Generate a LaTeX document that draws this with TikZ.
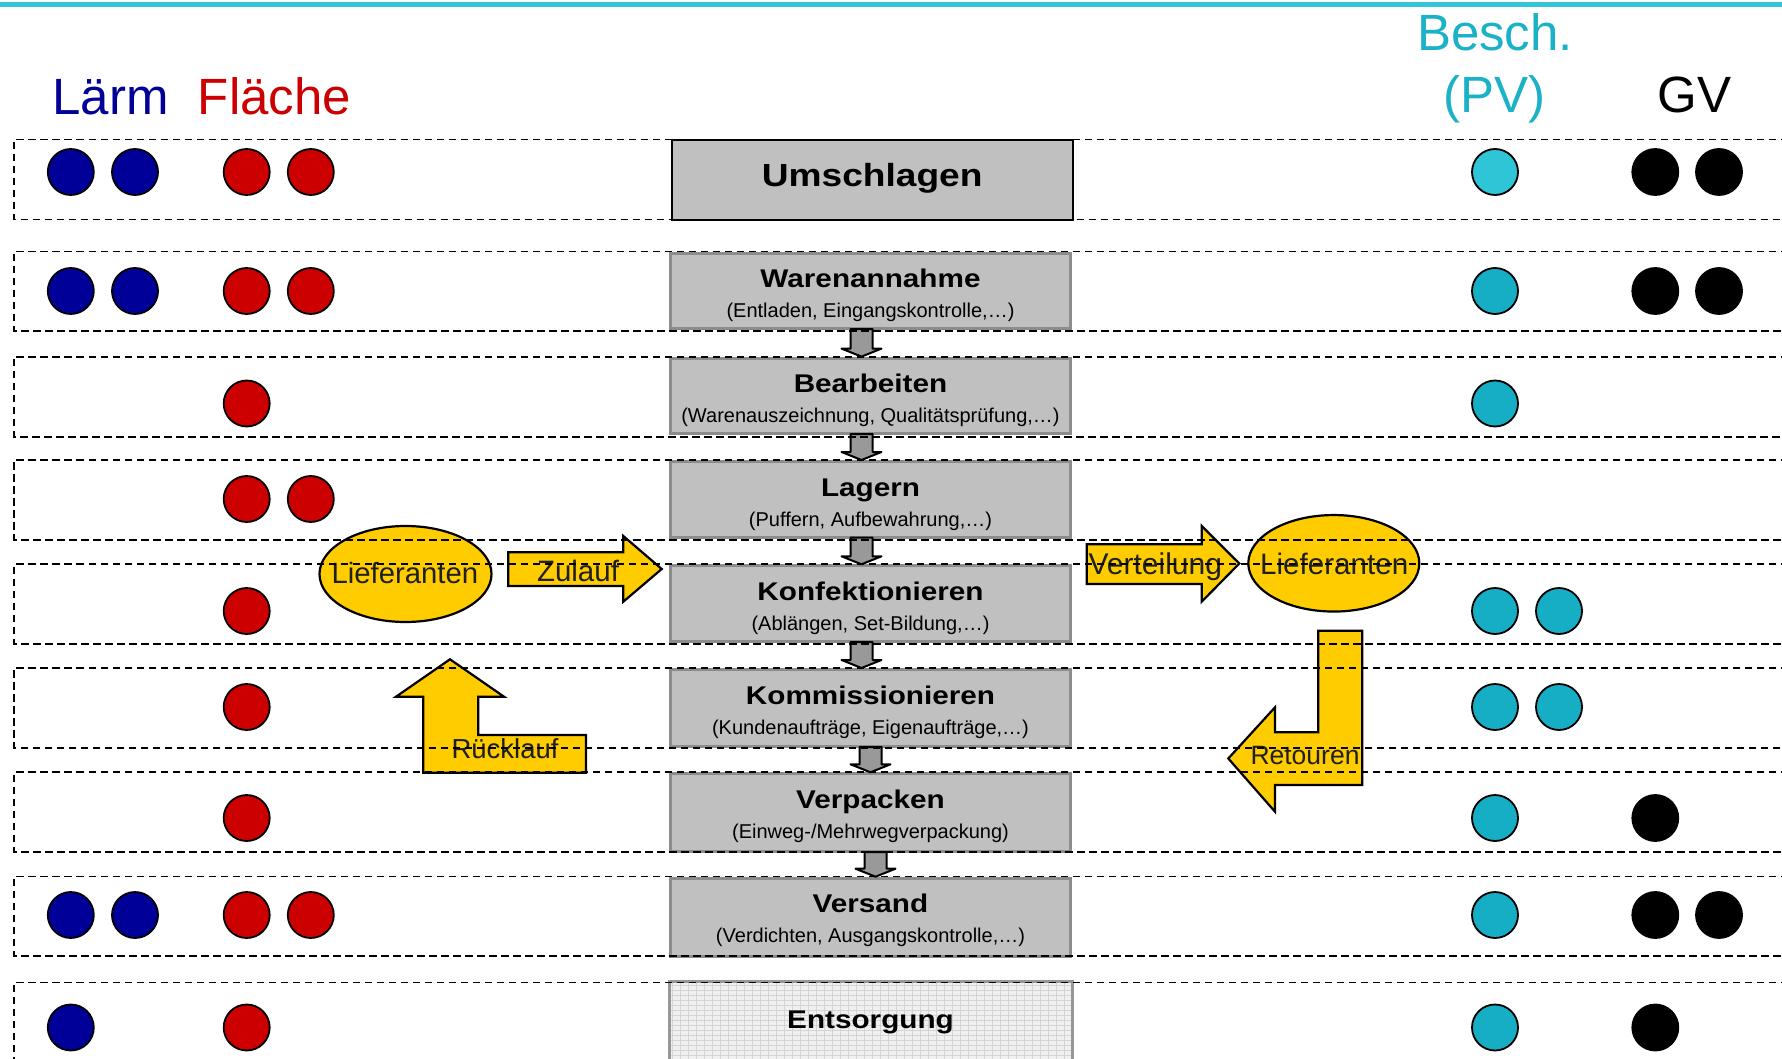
\documentclass[tikz,border=0pt]{standalone}
\usepackage{fontspec}
\setmainfont{Liberation Sans}
\newfontfamily\boxtitlefont{Liberation Sans}[FakeStretch=1.16]
\usetikzlibrary{calc,shapes.geometric}
\definecolor{lblue}{HTML}{000099}
\definecolor{lred}{HTML}{CC0000}
\definecolor{bcyanA}{HTML}{2EC5D7}
\definecolor{bcyan}{HTML}{16AEC4}
\definecolor{headcyan}{HTML}{1BB2C8}
\definecolor{topline}{HTML}{33C6D8}
\definecolor{yel}{HTML}{FFCC00}
\definecolor{boxgray}{HTML}{C0C0C0}
\definecolor{boxedge}{HTML}{8C8C8C}
\definecolor{arrgray}{HTML}{999999}
\definecolor{esfill}{HTML}{F0F0F0}
\definecolor{esgrid}{HTML}{D4D4D4}

\newcommand\dotrow[7]{%
  \ifnum#3>0 \node[dot,fill=lblue] (l#1a) at (70.8,#2) {};\fi
  \ifnum#3>1 \node[dot,fill=lblue] (l#1b) at (135,#2) {};\fi
  \ifnum#4>0 \node[dot,fill=lred] (f#1a) at (246.7,#2) {};\fi
  \ifnum#4>1 \node[dot,fill=lred] (f#1b) at (310.8,#2) {};\fi
  \ifnum#5>0 \node[dot,fill=#7] (b#1a) at (1495,#2) {};\fi
  \ifnum#5>1 \node[dot,fill=#7] (b#1b) at (1559,#2) {};\fi
  \ifnum#6>0 \node[dot,fill=black] (g#1a) at (1655.3,#2) {};\fi
  \ifnum#6>1 \node[dot,fill=black] (g#1b) at (1719,#2) {};\fi
}
\newcommand\grayarr[3]{%
  \draw[smallarr] ($(#1.south)+(#3-11,-1)$) -- ($(#2.north)+(#3-11,-8)$)
    -- ($(#2.north)+(#3-20,-8)$) -- ($(#2.north)+(#3,0)$)
    -- ($(#2.north)+(#3+20,-8)$) -- ($(#2.north)+(#3+11,-8)$)
    -- ($(#1.south)+(#3+11,-1)$) -- cycle;}
\newcommand\rowframe[2]{%
  \draw[rowline] (1800,#1) -- (14.3,#1) -- (14.3,#2) -- (1800,#2);}

\begin{document}
\begin{tikzpicture}[x=1pt,y=-1pt,
  dot/.style={circle,draw=black,line width=1.8pt,minimum size=46pt,inner sep=0pt},
  procbox/.style={draw=boxedge,line width=3pt,fill=boxgray,minimum width=400pt,anchor=north west,inner sep=0pt},
  ttl/.style={anchor=base,inner sep=0pt,font=\boxtitlefont\bfseries\fontsize{25.6}{30}\selectfont},
  sub/.style={anchor=base,inner sep=0pt,font=\fontsize{20}{24}\selectfont},
  head/.style={anchor=base,inner sep=0pt,font=\fontsize{51}{60}\selectfont},
  smallarr/.style={fill=arrgray,draw=black,line width=2pt,line join=round},
  yshape/.style={fill=yel,draw=black,line width=2.2pt,line join=miter},
  ylabel/.style={anchor=base,inner sep=0pt,text=black!88},
  rowline/.style={draw=black,line width=1.9pt,dash pattern=on 7.5pt off 4.5pt}]
\useasboundingbox (0,0) rectangle (1782,1059);
\clip (0,0) rectangle (1782,1059);
\fill[white] (0,0) rectangle (1782,1059);
% top line
\fill[topline] (0,2) rectangle (1782,6.7);
% headings
\node[head,text=lblue] (hL) at (110.5,115) {Lärm};
\node[head,text=lred] (hF) at (274.5,115) {Fläche};
\node[head,text=headcyan] (hB) at (1495,51) {Besch.};
\node[head,text=headcyan] (hP) at (1494.5,113) {(PV)};
\node[head,text=black] (hG) at (1694.5,113) {GV};
% dots
\dotrow{1}{172}{2}{2}{1}{2}{bcyanA}
\dotrow{2}{291}{2}{2}{1}{2}{bcyan}
\dotrow{3}{403.5}{0}{1}{1}{0}{bcyan}
\dotrow{4}{499}{0}{2}{0}{0}{bcyan}
\dotrow{5}{611}{0}{1}{2}{0}{bcyan}
\dotrow{6}{707}{0}{1}{2}{0}{bcyan}
\dotrow{7}{818}{0}{1}{1}{1}{bcyan}
\dotrow{8}{915}{2}{2}{1}{2}{bcyan}
\dotrow{9}{1027.5}{1}{1}{1}{1}{bcyan}
% process boxes
\node[procbox,draw=black,line width=2pt,minimum width=401pt,minimum height=80pt] (um) at (670.7,139.3) {};
\node[ttl,font=\boxtitlefont\bfseries\fontsize{32}{38}\selectfont] (umt) at ($(um.north)+(0,47.4)$) {Umschlagen};
\node[procbox,minimum height=75.3pt] (wa) at (669,251.7) {};
\node[procbox,minimum height=75.4pt] (be) at (669,356.6) {};
\node[procbox,minimum height=75.6pt] (la) at (669,460) {};
\node[procbox,minimum height=75.7pt] (ko) at (669,564.3) {};
\node[procbox,minimum height=77pt] (km) at (669,668) {};
\node[procbox,minimum height=77.7pt] (vp) at (669,772.3) {};
\node[procbox,minimum height=78.3pt] (vs) at (669,876.7) {};
\node[procbox,fill=esfill,draw=none,minimum height=77pt] (es) at (669,981.7) {};
\begin{scope}
  \clip (es.north west) rectangle (es.south east);
  \draw[esgrid,line width=0.8pt,xstep=8pt,ystep=5pt] (es.north west) grid (es.south east);
\end{scope}
\draw[draw=boxedge!90,line width=3pt] (es.north west) rectangle (es.south east);
\node[ttl] (wat) at ($(wa.north)+(0,36)$) {Warenannahme};
\node[sub] (was) at ($(wa.north)+(0,66)$) {(Entladen, Eingangskontrolle,…)};
\node[ttl] (bet) at ($(be.north)+(0,36)$) {Bearbeiten};
\node[sub] (bes) at ($(be.north)+(0,66)$) {(Warenauszeichnung, Qualitätsprüfung,…)};
\node[ttl] (lat) at ($(la.north)+(0,36)$) {Lagern};
\node[sub] (las) at ($(la.north)+(0,66)$) {(Puffern, Aufbewahrung,…)};
\node[ttl] (kot) at ($(ko.north)+(0,36)$) {Konfektionieren};
\node[sub] (kos) at ($(ko.north)+(0,66)$) {(Ablängen, Set-Bildung,…)};
\node[ttl] (kmt) at ($(km.north)+(0,36)$) {Kommissionieren};
\node[sub] (kms) at ($(km.north)+(0,66)$) {(Kundenaufträge, Eigenaufträge,…)};
\node[ttl] (vpt) at ($(vp.north)+(0,36)$) {Verpacken};
\node[sub] (vps) at ($(vp.north)+(0,66)$) {(Einweg-/Mehrwegverpackung)};
\node[ttl] (vst) at ($(vs.north)+(0,36)$) {Versand};
\node[sub] (vss) at ($(vs.north)+(0,66)$) {(Verdichten, Ausgangskontrolle,…)};
\node[ttl] (est) at ($(es.north)+(0,46.6)$) {Entsorgung};
% small flow arrows
\grayarr{wa}{be}{-9}
\grayarr{be}{la}{-9}
\grayarr{la}{ko}{-9}
\grayarr{ko}{km}{-9}
\grayarr{km}{vp}{0}
\grayarr{vp}{vs}{5}
% left side: suppliers, Zulauf, Ruecklauf
\node[ellipse,yshape,minimum width=172pt,minimum height=96pt,inner sep=0pt] (lief1) at (405.5,574) {};
\node[ylabel,font=\fontsize{29.3}{34}\selectfont] (lief1t) at (404.9,583) {Lieferanten};
\draw[yshape] (508.3,552.3) -- (623.3,552.3) -- (623.3,536) -- (661.7,569) -- (623.3,601.7) -- (623.3,586) -- (508.3,586) -- cycle;
\node[ylabel,font=\fontsize{29.5}{34}\selectfont] (zul) at (578,581) {Zulauf};
\draw[yshape] (450,659.3) -- (504,696.7) -- (478.3,696.7) -- (478.3,735) -- (586,735) -- (586,772.7) -- (423.3,772.7) -- (423.3,696.7) -- (396,696.7) -- cycle;
\node[ylabel,font=\fontsize{27.5}{32}\selectfont] (rue) at (505,758.3) {Rücklauf};
% right side: Verteilung, suppliers, Retouren
\draw[yshape] (1086.7,544.3) -- (1201.7,544.3) -- (1201.7,526) -- (1239.3,563.5) -- (1201.7,601.7) -- (1201.7,584) -- (1086.7,584) -- cycle;
\node[ylabel,font=\fontsize{30}{35}\selectfont] (ver) at (1155.3,574) {Verteilung};
\node[ellipse,yshape,minimum width=171pt,minimum height=96.5pt,inner sep=0pt] (lief2) at (1333.8,563.3) {};
\node[ylabel,font=\fontsize{29.6}{34}\selectfont] (lief2t) at (1334.2,574) {Lieferanten};
\draw[yshape] (1318.3,630.7) -- (1362.3,630.7) -- (1362.3,785) -- (1275,785) -- (1275,811.7) -- (1228.3,758.5) -- (1275,707.3) -- (1275,732.3) -- (1318.3,732.3) -- cycle;
\node[ylabel,font=\fontsize{26.5}{31}\selectfont] (ret) at (1305,764) {Retouren};
% dashed row frames (drawn on top)
\rowframe{139.5}{219.5}
\rowframe{251.5}{331}
\rowframe{356.6}{437}
\rowframe{460}{539.6}
\rowframe{564.4}{643.8}
\rowframe{668}{747.7}
\rowframe{772.3}{851.7}
\rowframe{876.5}{955.7}
\rowframe{982.5}{1075}
\end{tikzpicture}
\end{document}
